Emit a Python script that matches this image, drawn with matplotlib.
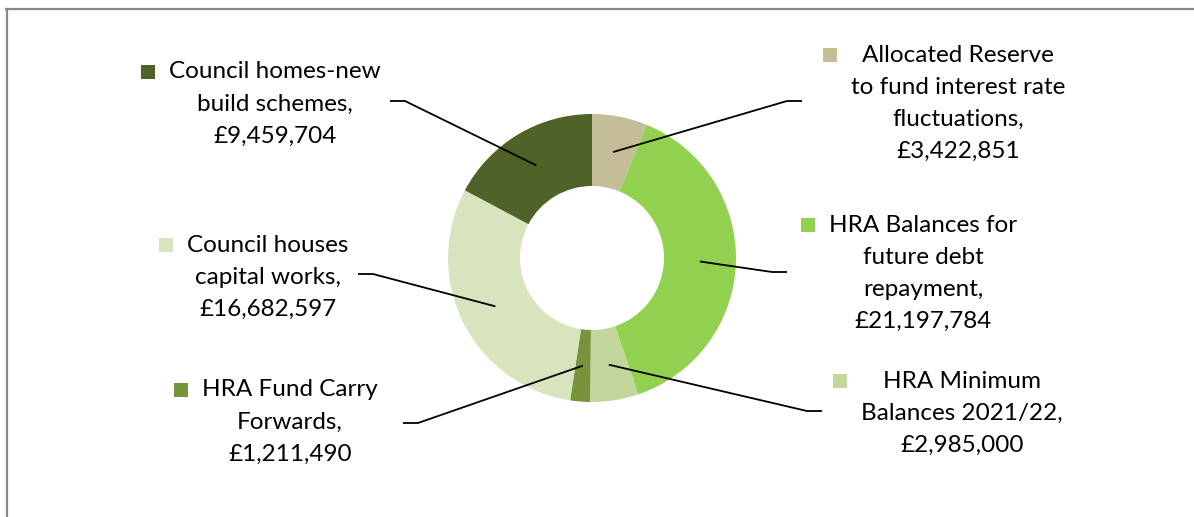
import numpy as np
import matplotlib.pyplot as plt
from matplotlib.lines import Line2D

W, H = 1194, 517

# data
labels = ["Allocated Reserve to fund interest rate fluctuations",
          "HRA Balances for future debt repayment",
          "HRA Minimum Balances 2021/22",
          "HRA Fund Carry Forwards",
          "Council houses capital works",
          "Council homes-new build schemes"]
values = [3422851, 21197784, 2985000, 1211490, 16682597, 9459704]
colors = ["#C4BD97", "#92D050", "#C3D69B", "#77933C", "#D7E4BD", "#4F6228"]

# label text split as in the picture
label_lines = [
    ["Allocated Reserve", "to fund interest rate", "fluctuations,", "£3,422,851"],
    ["HRA Balances for", "future debt", "repayment,", "£21,197,784"],
    ["HRA Minimum", "Balances 2021/22,", "£2,985,000"],
    ["HRA Fund Carry", "Forwards,", "£1,211,490"],
    ["Council houses", "capital works,", "£16,682,597"],
    ["Council homes-new", "build schemes,", "£9,459,704"],
]

# layout (pixels, y from top)
cx, cy, R = 592, 258, 144
text_cx = [958, 923, 962, 290, 268, 275]   # centre x of each label block
text_y0 = [55, 225, 381, 390, 245, 72]      # first line y
leader_end = [(802, 101), (787, 272), (822, 411), (403, 423), (358, 274), (390, 101)]
line_h = 32
fsize = 17.5

fig = plt.figure(figsize=(W / 100, H / 100), dpi=100)
ax = fig.add_axes([0, 0, 1, 1])
ax.set_xlim(0, W)
ax.set_ylim(0, H)
ax.axis("off")

def Y(y):
    return H - y

wedges, _ = ax.pie(values, colors=colors, startangle=90, counterclock=False,
                   radius=R, center=(cx, Y(cy)),
                   wedgeprops=dict(width=R / 2, linewidth=0))
ax.set_xlim(0, W)
ax.set_ylim(0, H)
ax.set_aspect("equal")

font = "Lato"
total = sum(values)
cum = 0
fig.canvas.draw()
renderer = fig.canvas.get_renderer()
for i, v in enumerate(values):
    mid = (cum + v / 2) / total * 2 * np.pi
    cum += v
    px = cx + 0.75 * R * np.sin(mid)
    py = cy - 0.75 * R * np.cos(mid)
    ex, ey = leader_end[i]
    knee = ex - 15 if ex > cx else ex + 15
    ax.plot([px, knee, ex], [Y(py), Y(ey), Y(ey)], color="black", lw=1.3,
            solid_capstyle="butt")

    tx = text_cx[i]
    texts = []
    for j, s in enumerate(label_lines[i]):
        t = ax.text(tx, Y(text_y0[i] + j * line_h), s, ha="center", va="center",
                    fontsize=fsize, family=font, color="black")
        texts.append(t)
    # legend key sits at the left edge of the label box, level with line 1
    left = min(t.get_window_extent(renderer=renderer).x0 for t in texts)
    ax.add_patch(plt.Rectangle((left - 28, Y(text_y0[i]) - 7), 14, 14,
                               color=colors[i], lw=0))

# chart area border (top and left only visible)
fig.add_artist(Line2D([6 / W, 1], [1 - 8.5 / H, 1 - 8.5 / H], color="#888888", lw=1.6))
fig.add_artist(Line2D([6.5 / W, 6.5 / W], [0, 1 - 8.5 / H], color="#888888", lw=1.6))

fig.savefig("out.png", dpi=100, facecolor="white")
